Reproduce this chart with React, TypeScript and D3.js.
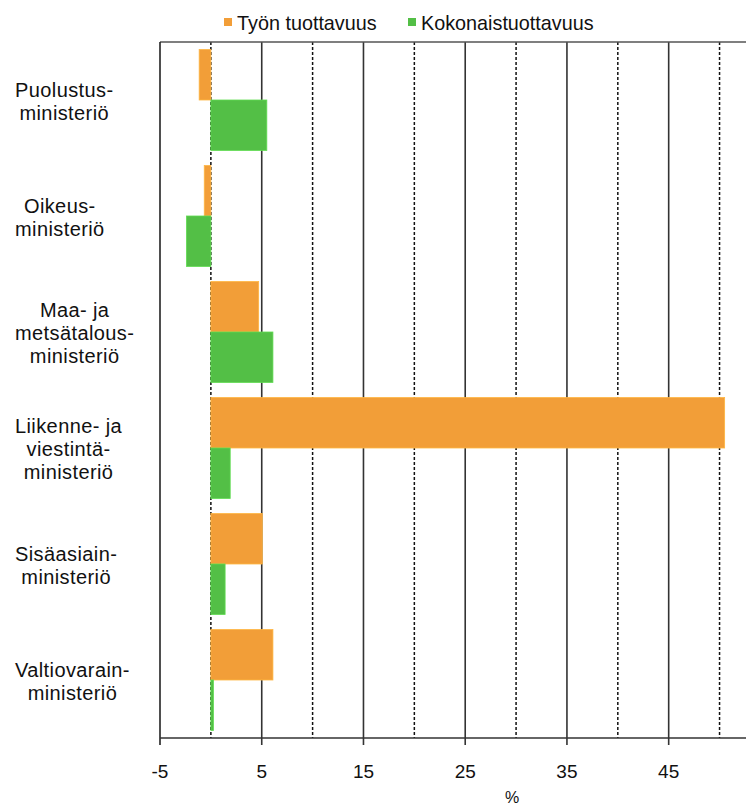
import React, { useEffect, useRef } from "react";
import * as d3 from "d3";

const categories = [
  "Puolustus-\nministeriö",
  "Oikeus-\nministeriö",
  "Maa- ja\nmetsätalous-\nministeriö",
  "Liikenne- ja\nviestintä-\nministeriö",
  "Sisäasiain-\nministeriö",
  "Valtiovarain-\nministeriö",
];
const seriesNames = ["Työn tuottavuus", "Kokonaistuottavuus"];
const tyonTuottavuus = [-1.15, -0.65, 4.7, 50.5, 5.05, 6.1];
const kokonaistuottavuus = [5.5, -2.4, 6.1, 1.9, 1.4, 0.25];
const tickValues = [-5, 5, 15, 25, 35, 45];
const gridSolid = [5, 15, 25, 35, 45];
const gridDashed = [0, 10, 20, 30, 40, 50];
const colors = ["#f29e38", "#53bf46"];
const axisTitle = "%";

const W = 746;
const H = 805;
const plotLeft = 160;
const plotRight = 746;
const plotTop = 42;
const plotBottom = 738;
const FONT = "'Liberation Sans', Arial, sans-serif";

export default function App() {
  const ref = useRef<SVGSVGElement | null>(null);

  useEffect(() => {
    const svg = d3.select(ref.current);
    svg.selectAll("*").remove();

    const x = d3.scaleLinear().domain([-5, 52.6]).range([plotLeft, plotRight]);
    const y = d3
      .scaleBand<string>()
      .domain(categories)
      .range([plotTop, plotBottom])
      .paddingInner(0.13)
      .paddingOuter(0.065);
    const ySub = d3
      .scaleBand<string>()
      .domain(seriesNames)
      .range([0, y.bandwidth()]);

    const data = [tyonTuottavuus, kokonaistuottavuus];

    // gridlines
    const g = svg.append("g");
    g.selectAll("line.solid")
      .data(gridSolid)
      .enter()
      .append("line")
      .attr("x1", (d) => x(d))
      .attr("x2", (d) => x(d))
      .attr("y1", plotTop)
      .attr("y2", plotBottom + 7)
      .attr("stroke", "#333")
      .attr("stroke-width", 1.6);
    g.selectAll("line.dashed")
      .data(gridDashed)
      .enter()
      .append("line")
      .attr("x1", (d) => x(d))
      .attr("x2", (d) => x(d))
      .attr("y1", plotTop)
      .attr("y2", plotBottom)
      .attr("stroke", "#111")
      .attr("stroke-width", 1.5)
      .attr("stroke-dasharray", "3,2");

    // top border
    g.append("line")
      .attr("x1", plotLeft)
      .attr("x2", plotRight)
      .attr("y1", plotTop)
      .attr("y2", plotTop)
      .attr("stroke", "#555")
      .attr("stroke-width", 1.3);

    // bars
    seriesNames.forEach((s, si) => {
      svg
        .append("g")
        .selectAll("rect")
        .data(data[si])
        .enter()
        .append("rect")
        .attr("x", (d) => x(Math.min(0, d)))
        .attr("width", (d) => Math.abs(x(d) - x(0)))
        .attr("y", (_d, i) => (y(categories[i]) as number) + (ySub(s) as number))
        .attr("height", ySub.bandwidth())
        .attr("fill", colors[si])
        .attr("stroke", d3.color(colors[si])!.brighter(0.4).toString())
        .attr("stroke-width", 0.8);
    });

    // left border / y axis
    svg
      .append("line")
      .attr("x1", plotLeft)
      .attr("x2", plotLeft)
      .attr("y1", plotTop)
      .attr("y2", plotBottom + 7)
      .attr("stroke", "#222")
      .attr("stroke-width", 1.6);

    // x axis
    svg
      .append("line")
      .attr("x1", plotLeft)
      .attr("x2", plotRight)
      .attr("y1", plotBottom)
      .attr("y2", plotBottom)
      .attr("stroke", "#333")
      .attr("stroke-width", 1.6);

    svg
      .append("g")
      .selectAll("text")
      .data(tickValues)
      .enter()
      .append("text")
      .attr("x", (d) => x(d))
      .attr("y", 778)
      .attr("text-anchor", "middle")
      .attr("font-family", FONT)
      .attr("font-size", 19)
      .attr("fill", "#111")
      .text((d) => String(d));

    svg
      .append("text")
      .attr("x", 512)
      .attr("y", 803)
      .attr("text-anchor", "middle")
      .attr("font-family", FONT)
      .attr("font-size", 16)
      .attr("fill", "#111")
      .text(axisTitle);

    // category labels
    const lineH = 23;
    const labelLeft = 15;
    categories.forEach((c) => {
      const lines = c.split("\n");
      const cy = (y(c) as number) + y.bandwidth() / 2;
      const grp = svg.append("g");
      const texts = lines.map((ln, li) =>
        grp
          .append("text")
          .attr("font-family", FONT)
          .attr("font-size", 20)
          .attr("letter-spacing", 0.4)
          .attr("fill", "#111")
          .attr("text-anchor", "middle")
          .attr("y", cy + (li - (lines.length - 1) / 2) * lineH + 8)
          .text(ln)
      );
      const widths = texts.map((t) => (t.node() as SVGTextElement).getComputedTextLength());
      const maxW = Math.max(...widths);
      texts.forEach((t) => t.attr("x", labelLeft + maxW / 2));
    });

    // legend
    const legendItems = [
      { name: seriesNames[0], sx: 224, color: colors[0] },
      { name: seriesNames[1], sx: 408, color: colors[1] },
    ];
    legendItems.forEach((it) => {
      svg
        .append("rect")
        .attr("x", it.sx)
        .attr("y", 18)
        .attr("width", 8)
        .attr("height", 8)
        .attr("fill", it.color);
      svg
        .append("text")
        .attr("x", it.sx + 13)
        .attr("y", 30)
        .attr("font-family", FONT)
        .attr("font-size", 19.8)
        .attr("fill", "#111")
        .text(it.name);
    });
  }, []);

  return (
    <svg
      ref={ref}
      width={W}
      height={H}
      style={{ position: "absolute", left: 0, top: 0, background: "#fff" }}
    />
  );
}
